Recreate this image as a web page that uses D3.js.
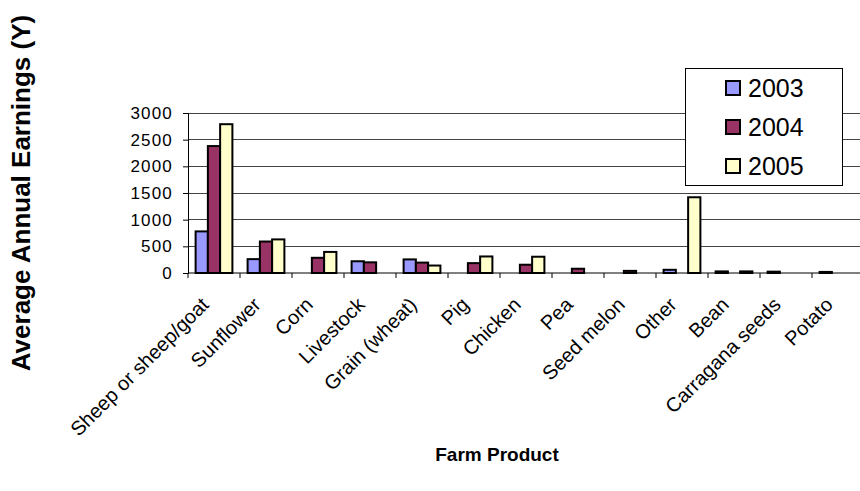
<!DOCTYPE html>
<html>
<head>
<meta charset="utf-8">
<script src="https://cdn.jsdelivr.net/npm/d3@7"></script>
<style>
  html, body { margin: 0; padding: 0; background: #fff; }
  svg { display: block; font-family: Arial, "Liberation Sans", sans-serif; }
</style>
</head>
<body>
<svg id="chart" width="860" height="491"></svg>
<script>
// Farm products and average annual earnings per year
const categories = ["Sheep or sheep/goat", "Sunflower", "Corn", "Livestock", "Grain (wheat)",
  "Pig", "Chicken", "Pea", "Seed melon", "Other", "Bean", "Carragana seeds", "Potato"];
const years = ["2003", "2004", "2005"];
const values2003 = [780, 260, 0, 220, 255, 0, 0, 0, 0, 60, 30, 25, 20];
const values2004 = [2380, 590, 285, 200, 195, 185, 155, 80, 40, 0, 0, 0, 0];
const values2005 = [2790, 630, 395, 0, 140, 310, 305, 0, 0, 1420, 30, 0, 0];
const yTicks = [0, 500, 1000, 1500, 2000, 2500, 3000];
const colors = ["#9999FF", "#993366", "#FFFFCC"];

const series = [values2003, values2004, values2005];

const svg = d3.select("#chart");
const plot = { left: 188, right: 864, top: 113, bottom: 273 };

const x = d3.scaleBand().domain(categories).range([plot.left, plot.right]).paddingInner(0).paddingOuter(0);
const inner = d3.scaleBand().domain(years).range([0, x.bandwidth()]).paddingInner(0).paddingOuter(0.62);
const y = d3.scaleLinear().domain([0, 3000]).range([plot.bottom, plot.top]);

// horizontal gridlines
svg.append("g").selectAll("line").data(yTicks.filter(d => d > 0)).join("line")
  .attr("x1", plot.left).attr("x2", plot.right)
  .attr("y1", d => y(d)).attr("y2", d => y(d))
  .attr("stroke", "#444").attr("stroke-width", 1)
  .attr("shape-rendering", "crispEdges");

// bars
const groups = svg.append("g").selectAll("g").data(categories).join("g")
  .attr("transform", d => `translate(${x(d)},0)`);
groups.selectAll("rect")
  .data((c, i) => years.map((yr, s) => ({ yr, s, v: series[s][i] })).filter(d => d.v > 0))
  .join("rect")
  .attr("x", d => inner(d.yr))
  .attr("width", inner.bandwidth())
  .attr("y", d => y(d.v))
  .attr("height", d => y(0) - y(d.v))
  .attr("fill", d => colors[d.s])
  .attr("stroke", "#000")
  .attr("stroke-width", 2);

// y axis
const yAxis = d3.axisLeft(y).tickValues(yTicks).tickSize(5).tickPadding(10).tickFormat(d3.format("d"));
const ya = svg.append("g").attr("transform", `translate(${plot.left},0)`).call(yAxis);
ya.select(".domain").attr("stroke", "#000");
ya.selectAll(".tick line").attr("stroke", "#000");
ya.selectAll(".tick text").attr("font-size", 17).attr("fill", "#000")
  .attr("font-family", "Arial, 'Liberation Sans', sans-serif").attr("letter-spacing", 1.2);

// x axis with ticks between categories
const xa = svg.append("g").attr("transform", `translate(0,${plot.bottom})`);
xa.append("line").attr("x1", plot.left).attr("x2", plot.right).attr("y1", 0).attr("y2", 0)
  .attr("stroke", "#000");
xa.selectAll(".sep").data(categories).join("line").attr("class", "sep")
  .attr("x1", d => x(d)).attr("x2", d => x(d)).attr("y1", 0).attr("y2", 5)
  .attr("stroke", "#000");
// slanted category labels
xa.selectAll(".lbl").data(categories).join("text").attr("class", "lbl")
  .attr("transform", d => `translate(${x(d) + x.bandwidth() / 2 - 4},${33}) rotate(-45)`)
  .attr("text-anchor", "end")
  .attr("font-size", 20)
  .text(d => d);

// axis titles
svg.append("text")
  .attr("transform", "translate(30,193) rotate(-90)")
  .attr("text-anchor", "middle")
  .attr("font-size", 26).attr("font-weight", "bold")
  .text("Average Annual Earnings (Y)");
svg.append("text")
  .attr("x", 497).attr("y", 461)
  .attr("text-anchor", "middle")
  .attr("font-size", 19).attr("font-weight", "bold")
  .text("Farm Product");

// legend
const legend = svg.append("g");
legend.append("rect").attr("x", 685.5).attr("y", 68.5).attr("width", 157).attr("height", 117)
  .attr("fill", "#fff").attr("stroke", "#000");
const rows = legend.selectAll("g").data(years).join("g")
  .attr("transform", (d, i) => `translate(726,${88 + i * 39})`);
rows.append("rect").attr("x", 0).attr("y", -7).attr("width", 14).attr("height", 14)
  .attr("fill", (d, i) => colors[i]).attr("stroke", "#000").attr("stroke-width", 2);
rows.append("text").attr("x", 22).attr("y", 0).attr("dy", "0.36em")
  .attr("font-size", 25).text(d => d);
</script>
</body>
</html>
